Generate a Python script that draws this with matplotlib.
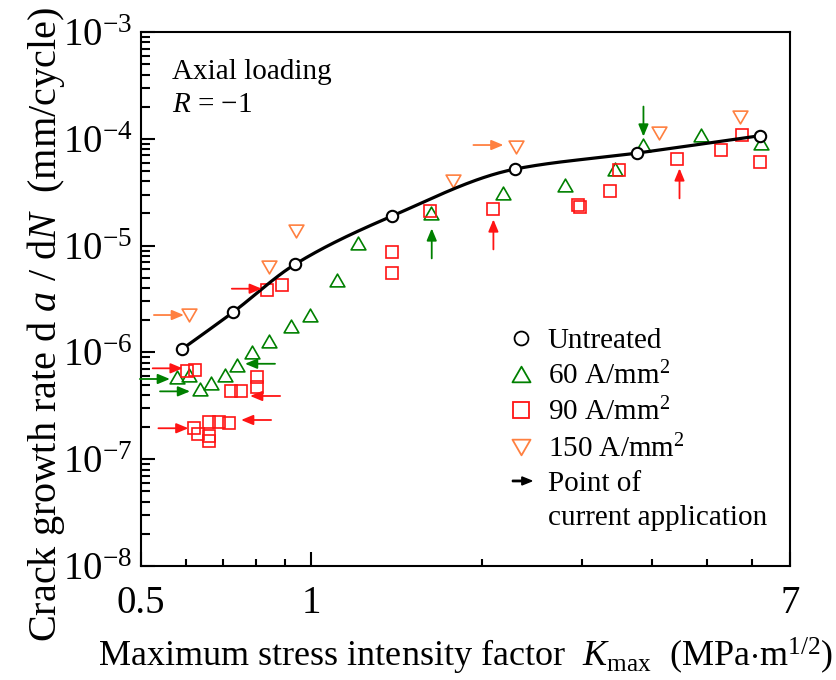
import numpy as np
import matplotlib
matplotlib.use("Agg")
import matplotlib.pyplot as plt
from matplotlib.lines import Line2D
from matplotlib.path import Path
from matplotlib.patches import FancyArrow, Patch
from matplotlib.legend_handler import HandlerPatch
from matplotlib.ticker import FixedLocator, NullFormatter, LogLocator

plt.rcParams["font.family"] = "Liberation Serif"
plt.rcParams["mathtext.fontset"] = "custom"
plt.rcParams["mathtext.rm"] = "Liberation Serif"
plt.rcParams["mathtext.it"] = "Liberation Serif:italic"

# untreated (open circles + fitted curve)
k_untr = [0.591, 0.727, 0.936, 1.388, 2.294, 3.762, 6.20]
r_untr = [1.07e-6, 2.37e-6, 6.68e-6, 1.89e-5, 5.22e-5, 7.36e-5, 1.07e-4]

# 60 A/mm2
k_60 = [0.579, 0.609, 0.636, 0.665, 0.704, 0.739, 0.786, 0.841, 0.920, 0.995,
        1.112, 1.211, 1.627, 2.179, 2.807, 3.440, 3.859, 4.880, 6.228]
r_60 = [5.92e-7, 6.14e-7, 4.51e-7, 5.20e-7, 6.14e-7, 7.62e-7, 1.02e-6, 1.29e-6, 1.78e-6, 2.24e-6,
        4.76e-6, 1.06e-5, 2.01e-5, 3.09e-5, 3.67e-5, 5.25e-5, 8.75e-5, 1.09e-4, 9.08e-5]

# 90 A/mm2
k_90 = [0.604, 0.624, 0.721, 0.751, 0.803, 0.803, 0.622, 0.631, 0.661, 0.661,
        0.661, 0.688, 0.715, 0.837, 0.888, 1.389, 1.389, 1.623, 2.095, 2.963,
        2.987, 3.371, 3.500, 4.421, 5.294, 5.767, 6.203]
r_90 = [6.74e-7, 6.84e-7, 4.38e-7, 4.38e-7, 5.92e-7, 4.77e-7, 1.98e-7, 1.74e-7, 1.65e-7, 1.48e-7,
        2.24e-7, 2.24e-7, 2.20e-7, 3.84e-6, 4.25e-6, 8.77e-6, 5.58e-6, 2.10e-5, 2.19e-5, 2.40e-5,
        2.30e-5, 3.27e-5, 5.10e-5, 6.43e-5, 7.85e-5, 1.09e-4, 6.10e-5]

# 150 A/mm2
k_150 = [0.608, 0.841, 0.939, 1.782, 2.300, 4.103, 5.720]
r_150 = [2.24e-6, 6.26e-6, 1.38e-5, 4.03e-5, 8.43e-5, 1.14e-4, 1.59e-4]

# points of current application: arrow tip, pointing direction, series
arr_k = [0.596, 0.818, 0.593, 0.563, 0.611, 0.764, 0.780, 0.752, 0.607, 2.184, 1.632, 2.097, 3.859, 4.468]
arr_r = [2.24e-6, 3.95e-6, 7.10e-7, 5.64e-7, 4.32e-7, 7.83e-7, 3.91e-7, 2.33e-7, 1.95e-7,
         8.75e-5, 1.45e-5, 1.76e-5, 1.05e-4, 5.29e-5]
arr_dir = ["r", "r", "r", "r", "r", "l", "l", "l", "r", "r", "u", "u", "d", "u"]
arr_ser = ["150", "90", "90", "60", "60", "60", "90", "90", "90", "150", "60", "90", "60", "90"]

GREEN, RED, ORANGE = "#008000", "#ff1414", "#ff8040"
COL = {"60": GREEN, "90": RED, "150": ORANGE}
TRI_UP = Path([(-1, -0.866), (1, -0.866), (0, 0.866), (-1, -0.866)], closed=True)
TRI_DN = Path([(-1, 0.866), (1, 0.866), (0, -0.866), (-1, 0.866)], closed=True)


def pchip(x, y, xn):
    h = np.diff(x); d = np.diff(y) / h
    m = np.zeros_like(y)
    m[0], m[-1] = d[0], d[-1]
    for i in range(1, len(x) - 1):
        if d[i - 1] * d[i] > 0:
            w1 = 2 * h[i] + h[i - 1]; w2 = h[i] + 2 * h[i - 1]
            m[i] = (w1 + w2) / (w1 / d[i - 1] + w2 / d[i])
    idx = np.clip(np.searchsorted(x, xn) - 1, 0, len(x) - 2)
    t = (xn - x[idx]) / h[idx]
    h00 = 2 * t**3 - 3 * t**2 + 1; h10 = t**3 - 2 * t**2 + t
    h01 = -2 * t**3 + 3 * t**2; h11 = t**3 - t**2
    return h00 * y[idx] + h10 * h[idx] * m[idx] + h01 * y[idx + 1] + h11 * h[idx] * m[idx + 1]


def legend_arrow(legend, orig_handle, xdescent, ydescent, width, height, fontsize):
    return FancyArrow(0.2 * width - xdescent, 0.5 * height - ydescent, 0.7 * width, 0,
                      width=1.0, head_width=5.8, head_length=7.2, length_includes_head=True)


fig = plt.figure(figsize=(8.37, 6.8), dpi=100)
ax = fig.add_axes([0.1681, 0.1676, 0.7757, 0.7853])
ax.set_xscale("log"); ax.set_yscale("log")
ax.set_xlim(0.5, 7); ax.set_ylim(1e-8, 1e-3)

lx, ly = np.log10(k_untr), np.log10(r_untr)
xs = np.linspace(lx[0], lx[-1], 300)
ax.plot(10**xs, 10**pchip(lx, ly, xs), color="k", lw=2.3, zorder=3)
ax.plot(k_untr, r_untr, ls="none", marker="o", ms=8.2, mfc="white", mec="k", mew=1.5, zorder=4)

ax.plot(k_60, r_60, ls="none", marker=TRI_UP, ms=10.6, mfc="none", mec=GREEN, mew=1.2, zorder=2)
ax.plot(k_90, r_90, ls="none", marker="s", ms=8, mfc="none", mec=RED, mew=1.2, zorder=2)
ax.plot(k_150, r_150, ls="none", marker=TRI_DN, ms=10.6, mfc="none", mec=ORANGE, mew=1.2, zorder=2)

L = 21.6  # arrow length in points
off = {"r": (-1, 0), "l": (1, 0), "u": (0, -1), "d": (0, 1)}
for k, r, d, s in zip(arr_k, arr_r, arr_dir, arr_ser):
    ox, oy = off[d]
    ax.annotate("", xy=(k, r), xytext=(ox * L, oy * L), textcoords="offset points",
                arrowprops=dict(arrowstyle="-|>,head_length=0.36,head_width=0.15",
                                color=COL[s], lw=1.3, shrinkA=0, shrinkB=0, mutation_scale=20))

ax.text(0.0477, 0.912, "Axial loading", transform=ax.transAxes, fontsize=21, va="baseline")
ax.text(0.0477, 0.850, r"$R$ = $-$1", transform=ax.transAxes, fontsize=21, va="baseline")

arrow_handle = Patch(color="k")
handles = [
    Line2D([], [], ls="none", marker="o", ms=10, mfc="white", mec="k", mew=1.3),
    Line2D([], [], ls="none", marker=TRI_UP, ms=13, mfc="none", mec=GREEN, mew=1.3),
    Line2D([], [], ls="none", marker="s", ms=11, mfc="none", mec=RED, mew=1.3),
    Line2D([], [], ls="none", marker=TRI_DN, ms=13, mfc="none", mec=ORANGE, mew=1.3),
    arrow_handle,
    Line2D([], [], ls="none"),
]
labels = ["Untreated", r"60 A/mm$^2$", r"90 A/mm$^2$", r"150 A/mm$^2$", "Point of", "current application"]
ax.legend(handles, labels, handler_map={arrow_handle: HandlerPatch(patch_func=legend_arrow)},
          loc="upper left", bbox_to_anchor=(0.564, 0.447), frameon=False, fontsize=21,
          handlelength=0.95, handletextpad=0.45, labelspacing=0.27, borderpad=0, borderaxespad=0)

ax.xaxis.set_major_locator(FixedLocator([0.5, 1, 7]))
ax.set_xticklabels(["0.5", "1", "7"])
ax.xaxis.set_minor_locator(FixedLocator([0.6, 0.7, 0.8, 0.9, 2, 3, 4, 5, 6]))
ax.xaxis.set_minor_formatter(NullFormatter())
ax.yaxis.set_major_locator(LogLocator(base=10, numticks=10))
ax.yaxis.set_minor_locator(LogLocator(base=10, subs=np.arange(2, 10), numticks=10))
ax.yaxis.set_minor_formatter(NullFormatter())
ax.tick_params(which="both", direction="in", width=1.5, top=False, right=False)
ax.tick_params(which="major", length=10, labelsize=28)
ax.tick_params(axis="y", which="major", pad=6)
ax.tick_params(axis="x", which="major", pad=14)
ax.tick_params(axis="y", which="minor", length=6.5)
ax.tick_params(axis="x", which="minor", length=5)
for sp in ax.spines.values():
    sp.set_linewidth(1.5)

ax.set_xlabel(r"Maximum stress intensity factor  $K_{\rm max}$  (MPa$\cdot$m$^{1/2}$)", fontsize=26, labelpad=10)
ax.set_ylabel(r"Crack growth rate d $a$ / d$N$  (mm/cycle)", fontsize=29)
ax.yaxis.set_label_coords(-0.113, 0.452)

fig.savefig("out.png", dpi=100)
